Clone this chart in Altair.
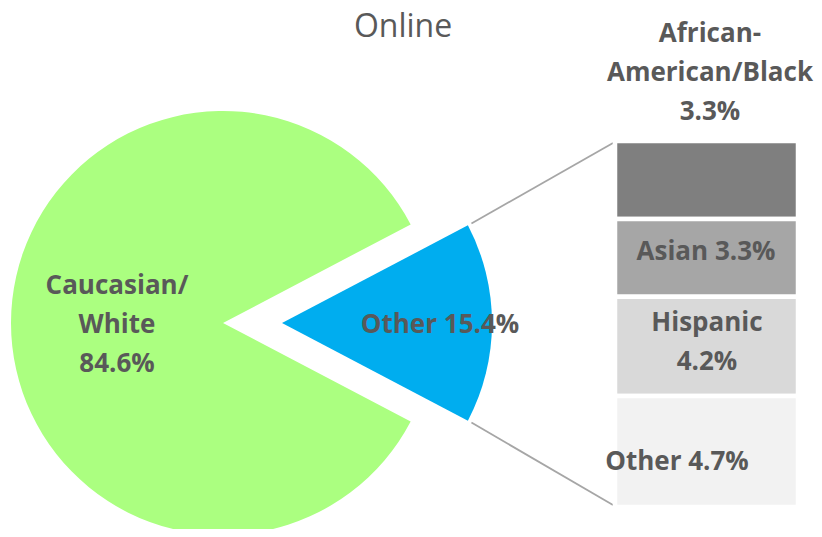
import math
import altair as alt
import pandas as pd

# ---------------- data ----------------
title_text = "Online"

pie_categories = ["Caucasian/White", "Other"]
pie_values = [84.6, 15.4]
pie_label_names = ["Caucasian/\nWhite", "Other"]
pie_label_seps = ["\n", " "]
pie_stack_order = [1, 0]  # "Other" slice is drawn first (centered at 3 o'clock)
pie_colors = ["#abff80", "#00adef"]

bar_categories = ["African-American/Black", "Asian", "Hispanic", "Other"]
bar_values = [3.3, 3.3, 4.2, 4.7]
bar_label_names = ["African-\nAmerican/Black", "Asian", "Hispanic", "Other"]
bar_label_seps = ["\n", " ", "\n", " "]
bar_stack_order = [3, 2, 1, 0]  # bottom of the bar is "Other"
bar_colors = ["#7f7f7f", "#a6a6a6", "#d9d9d9", "#f2f2f2"]

# ---------------- styling / layout ----------------
W, H = 806, 521
TEXT = "#595959"
FONT = "Open Sans"
FS = 26
LH = 39
GREEN_C = (215, 315)
BLUE_C = (274, 315)
R_GREEN = 212
R_BLUE = 210

pie_df = pd.DataFrame({
    "category": pie_categories,
    "value": pie_values,
    "label": [n + s + f"{v:.1f}%" for n, s, v in zip(pie_label_names, pie_label_seps, pie_values)],
    "order": pie_stack_order,
})
bar_df = pd.DataFrame({
    "category": bar_categories,
    "value": bar_values,
    "label": [n + s + f"{v:.1f}%" for n, s, v in zip(bar_label_names, bar_label_seps, bar_values)],
    "order": bar_stack_order,
})

total = sum(pie_values)
other_frac = pie_values[1] / total
start = math.pi / 2 - other_frac * math.pi

pie_base = (
    alt.Chart(pie_df)
    .transform_joinaggregate(total="sum(value)")
    .transform_window(cum="sum(value)", sort=[alt.SortField("order")], frame=[None, 0])
    .transform_calculate(
        t0=f"{start} + 2*PI*(datum.cum - datum.value)/datum.total",
        t1=f"{start} + 2*PI*datum.cum/datum.total",
    )
    .transform_calculate(tm="(datum.t0 + datum.t1)/2")
)

def slice_layer(cat, center, radius, fill):
    return pie_base.transform_filter(alt.datum.category == cat).mark_arc(
        outerRadius=radius, fill=fill
    ).encode(
        theta=alt.Theta("t0:Q", scale=None),
        theta2=alt.Theta2("t1"),
        x=alt.value(center[0]),
        y=alt.value(center[1]),
    )

def slice_text(cat, center, radius, dy):
    return pie_base.transform_filter(alt.datum.category == cat).mark_text(
        font=FONT, fontSize=FS, fontWeight="bold", color=TEXT, lineBreak="\n",
        lineHeight=LH, align="center", baseline="middle", dy=dy
    ).encode(
        theta=alt.Theta("tm:Q", scale=None, stack=False),
        radius=alt.value(radius),
        x=alt.value(center[0]),
        y=alt.value(center[1]),
        text="label:N",
    )

green = slice_layer(pie_categories[0], GREEN_C, R_GREEN, pie_colors[0])
blue = slice_layer(pie_categories[1], BLUE_C, R_BLUE, pie_colors[1])
green_txt = slice_text(pie_categories[0], GREEN_C, 106, 2 - LH)
blue_txt = slice_text(pie_categories[1], BLUE_C, 158, 2)

# bar of pie
bar_base = (
    alt.Chart(bar_df)
    .transform_window(cum="sum(value)", sort=[alt.SortField("order")], frame=[None, 0])
    .transform_calculate(y0="datum.cum - datum.value", mid="datum.cum - datum.value/2")
)
yscale = alt.Scale(domain=[0, sum(bar_values)], range=[499, 133])
bars = bar_base.mark_rect(stroke="white", strokeWidth=4.5).encode(
    x=alt.value(607),
    x2=alt.value(790),
    y=alt.Y("y0:Q", scale=yscale, axis=None),
    y2=alt.Y2("cum"),
    color=alt.Color("category:N", scale=alt.Scale(domain=bar_categories, range=bar_colors), legend=None),
)

def bar_text(cat, x, dy, y_value=None):
    enc = dict(x=alt.value(x), text="label:N")
    if y_value is None:
        enc["y"] = alt.Y("mid:Q", scale=yscale, axis=None)
    else:
        enc["y"] = alt.value(y_value)
    return bar_base.transform_filter(alt.datum.category == cat).mark_text(
        font=FONT, fontSize=FS, fontWeight="bold", color=TEXT, lineBreak="\n",
        lineHeight=LH, align="center", baseline="middle", dy=dy
    ).encode(**enc)

t_black = bar_text(bar_categories[0], 702, -LH, y_value=65)
t_asian = bar_text(bar_categories[1], 698, -6)
t_hisp = bar_text(bar_categories[2], 699, -4 - LH / 2)
t_other = bar_text(bar_categories[3], 669, 10)

# connector lines from the exploded slice to the bar
half = other_frac * math.pi
rs = R_BLUE + 4
sx = BLUE_C[0] + rs * math.cos(half)
sy_top = BLUE_C[1] - rs * math.sin(half)
sy_bot = BLUE_C[1] + rs * math.sin(half)
blank = alt.Data(values=[{}])
line_top = alt.Chart(blank).mark_rule(color="#a6a6a6", strokeWidth=1.8).encode(
    x=alt.value(sx), y=alt.value(sy_top), x2=alt.value(605), y2=alt.value(135)
)
line_bot = alt.Chart(blank).mark_rule(color="#a6a6a6", strokeWidth=1.8).encode(
    x=alt.value(sx), y=alt.value(sy_bot), x2=alt.value(605), y2=alt.value(497)
)

title = alt.Chart(blank).mark_text(
    text=title_text, font="Open Sans", fontSize=32, color=TEXT,
    align="center", baseline="alphabetic"
).encode(x=alt.value(395), y=alt.value(29))

chart = alt.layer(
    green, blue, line_top, line_bot, bars,
    green_txt, blue_txt, t_black, t_asian, t_hisp, t_other, title
).properties(
    width=W, height=H, padding=0, autosize=alt.AutoSizeParams(type="none")
).configure_view(stroke=None)

chart.save("out.html", embed_options={"renderer": "svg", "actions": False})
